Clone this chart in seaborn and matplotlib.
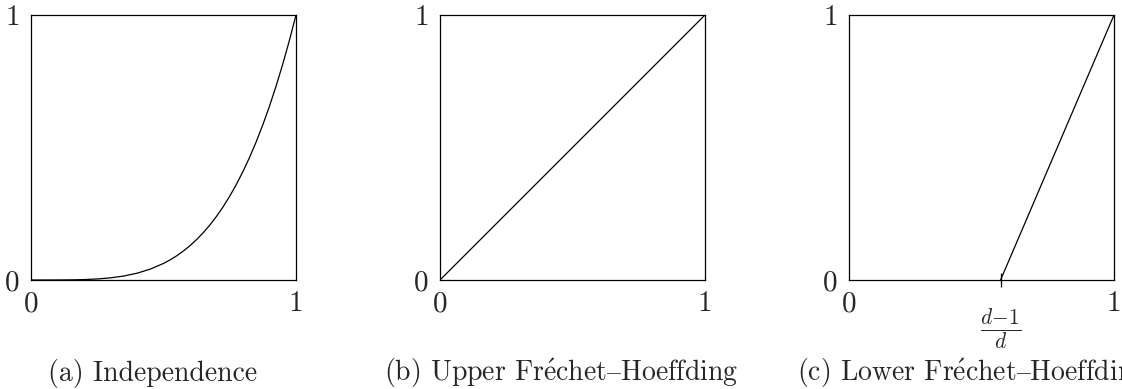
import numpy as np
import pandas as pd
import matplotlib
matplotlib.use("Agg")
import matplotlib.pyplot as plt
import seaborn as sns
from matplotlib.ticker import FixedLocator, FixedFormatter

# --- DATA ---
indep_x = [0, .05, .1, .15, .2, .25, .3, .35, .4, .45, .5, .525,
           .55, .575, .6, .625, .65, .675, .7, .725, .75, .775,
           .8, .825, .85, .875, .9, .925, .95, .975, 1]
indep_y = [0, 0.0, 0.0001, 0.0005, 0.0016, 0.0039, 0.0081, 0.015, 0.0256, 0.041, 0.0625, 0.076,
           0.0915, 0.1093, 0.1296, 0.1526, 0.1785, 0.2076, 0.2401, 0.2763, 0.3164, 0.3608,
           0.4096, 0.4632, 0.522, 0.5862, 0.6561, 0.7321, 0.8145, 0.9037, 1]
upper_x = [0, 1]
upper_y = [0, 1]
lower_x = [0.572, 1]
lower_y = [0, 1]
lower_tick = 0.572
tick_labels = ["0", "1"]
captions = [r"(a) Independence",
            r"(b) Upper Fr$\mathrm{\acute{e}}$chet$\mathrm{–}$Hoeffding",
            r"(c) Lower Fr$\mathrm{\acute{e}}$chet$\mathrm{–}$Hoeffding"]

sns.set_theme(style="white")
plt.rcParams['font.family'] = ['cmr10', 'DejaVu Serif']
plt.rcParams['mathtext.fontset'] = 'cm'
plt.rcParams['axes.formatter.use_mathtext'] = True

fig = plt.figure(figsize=(11.22, 3.89), dpi=100)

panels = [(indep_x, indep_y), (upper_x, upper_y), (lower_x, lower_y)]
lefts = [31, 440, 849]
caption_x = [153, 561, 972]

for i, (xs, ys) in enumerate(panels):
    ax = fig.add_axes([lefts[i] / 1122, 109 / 389, 265 / 1122, 265 / 389])
    df = pd.DataFrame({"x": xs, "y": ys})
    sns.lineplot(data=df, x="x", y="y", ax=ax, color="black", linewidth=0.9, sort=False)
    ax.set_xlim(0, 1)
    ax.set_ylim(0, 1)
    ax.set_xlabel("")
    ax.set_ylabel("")
    for sp in ax.spines.values():
        sp.set_color("black")
        sp.set_linewidth(0.9)
    ax.set_xticks([0, 1])
    ax.set_yticks([0, 1])
    ax.set_xticklabels(tick_labels)
    ax.set_yticklabels(tick_labels)
    ax.tick_params(axis="both", which="major", length=0, labelsize=21)
    ax.tick_params(axis="x", which="major", pad=8)
    ax.tick_params(axis="y", which="major", pad=8)
    if i == 2:
        # extra tick for (d-1)/d on the lower bound panel
        ax.xaxis.set_minor_locator(FixedLocator([lower_tick]))
        ax.xaxis.set_minor_formatter(FixedFormatter([r"$\frac{d\!-\!1}{d}$"]))
        ax.tick_params(axis="x", which="minor", direction="inout", length=10,
                       width=0.9, color="black", labelsize=22, pad=14, bottom=True)
    fig.text(caption_x[i] / 1122, 16 / 389, captions[i], ha="center", va="center", fontsize=20)

plt.savefig("out.png", dpi=100)
